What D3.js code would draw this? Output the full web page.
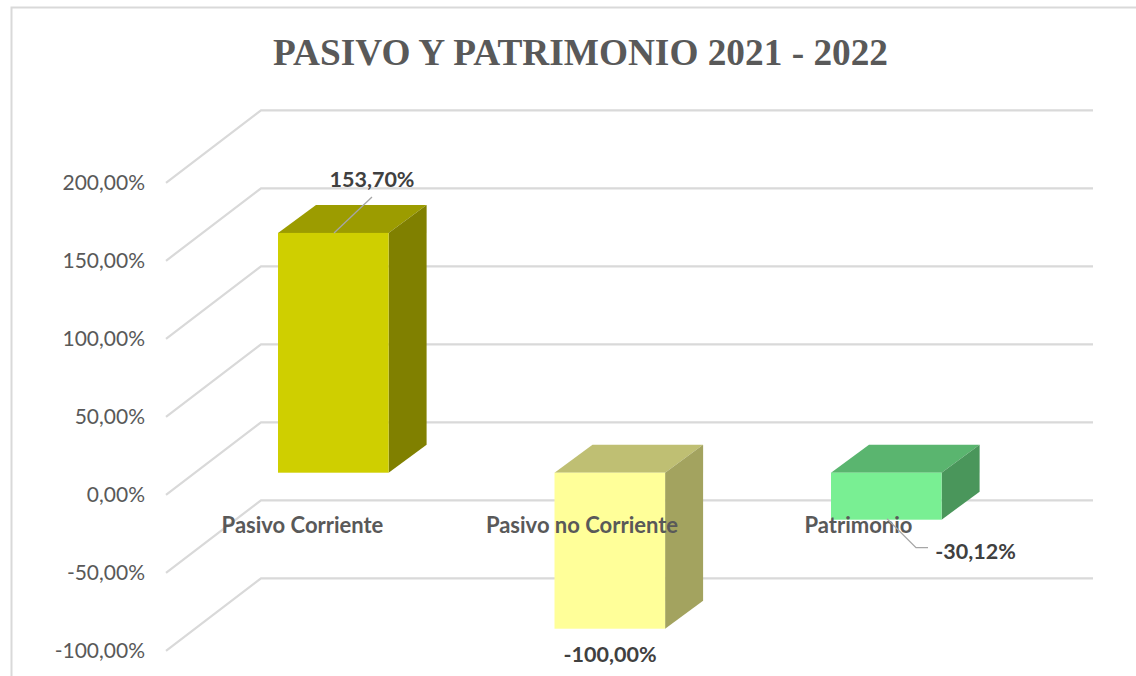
<!DOCTYPE html>
<html><head><meta charset="utf-8">
<script src="https://cdn.jsdelivr.net/npm/d3@7"></script>
<style>html,body{margin:0;padding:0;background:#fff;overflow:hidden}svg{display:block}</style>
</head><body><svg id="c" width="1136" height="676"></svg>
<script>
const titleText = "PASIVO Y PATRIMONIO 2021 - 2022";
const categories = ["Pasivo Corriente","Pasivo no Corriente","Patrimonio"];
const values = [153.70,-100.00,-30.12];
const dataLabels = ["153,70%","-100,00%","-30,12%"];
const ticks = [200,150,100,50,0,-50,-100];
const tickLabels = ["200,00%","150,00%","100,00%","50,00%","0,00%","-50,00%","-100,00%"];
const frontColors = ["#cfcf00","#ffff99","#79ef93"];
const topColors = ["#9c9c00","#bfbf73","#5ab56f"];
const sideColors = ["#808000","#a3a35f","#4a965b"];

const svg = d3.select("#c");
// Back wall of the 3D plot
const y = d3.scaleLinear().domain([-100,200]).range([578.3,110.3]);
const x = d3.scaleBand().domain(categories).range([195.05,1024.55]).paddingInner(0.6).paddingOuter(0.3);
const wall = {x0:261,x1:1093}, floorDx = -95, floorDy = 72.5;
const barFrontDy = 50.4, barDepthX = 38, barDepthY = 28;
const gridColor = "#d9d9d9", textColor = "#595959", labelColor = "#404040";
const sans = "Lato, 'Open Sans', sans-serif";

// chart frame
svg.append("path").attr("d","M11.5,676V7.5H1136").attr("fill","none").attr("stroke",gridColor).attr("stroke-width",2);

// title
svg.append("text").attr("x",580.5).attr("y",64.5).attr("text-anchor","middle")
  .attr("font-family","'Liberation Serif',serif").attr("font-weight","bold").attr("font-size",37.3)
  .attr("fill",textColor).text(titleText);

// gridlines
svg.append("g").selectAll("path").data(ticks).join("path")
  .attr("d",t=>d3.line()([[wall.x0+floorDx,y(t)+floorDy],[wall.x0,y(t)],[wall.x1,y(t)]]))
  .attr("fill","none").attr("stroke",gridColor).attr("stroke-width",2.2);

// axis labels
svg.append("g").selectAll("text").data(ticks).join("text")
  .attr("x",145).attr("y",t=>y(t)+floorDy+7.5).attr("text-anchor","end")
  .attr("font-family",sans).attr("font-size",21).attr("fill",textColor)
  .text((t,i)=>tickLabels[i]);

// bars
const bars = svg.append("g").selectAll("g").data(categories).join("g");
bars.each(function(c,i){
  const g = d3.select(this), v = values[i];
  const l = x(c), r = l+x.bandwidth();
  const y0 = y(0)+barFrontDy, yv = y(v)+barFrontDy;
  const t = Math.min(y0,yv), b = Math.max(y0,yv);
  const dx = barDepthX, dy = barDepthY;
  g.append("path").attr("d",d3.line()([[l,t],[l+dx,t-dy],[r+dx,t-dy],[r,t]])+"Z").attr("fill",topColors[i]);
  g.append("path").attr("d",d3.line()([[r,t],[r+dx,t-dy],[r+dx,b-dy],[r,b]])+"Z").attr("fill",sideColors[i]);
  g.append("rect").attr("x",l).attr("y",t).attr("width",r-l).attr("height",b-t).attr("fill",frontColors[i]);
});

// category labels
const catX = [302.5,582,858.5];
svg.append("g").selectAll("text").data(categories).join("text")
  .attr("x",(c,i)=>catX[i]).attr("y",532.5).attr("text-anchor","middle")
  .attr("font-family",sans).attr("font-weight","bold").attr("font-size",22).attr("fill",textColor)
  .text(c=>c);

// leader lines
const at = i => y(values[i])+barFrontDy;
const l0 = x(categories[0]), l2 = x(categories[2]);
svg.append("path").attr("d",d3.line()([[l0+56,at(0)],[l0+94,at(0)-36]]))
  .attr("fill","none").attr("stroke","#a6a6a6").attr("stroke-width",1.3);
svg.append("path").attr("d",d3.line()([[l2+56,at(2)-1],[l2+85,at(2)+28],[l2+97,at(2)+28]]))
  .attr("fill","none").attr("stroke","#a6a6a6").attr("stroke-width",1.3);

// data labels
const lblX = [372,610,975.5], lblY = [186.5,662,558.5];
svg.append("g").selectAll("text").data(dataLabels).join("text")
  .attr("x",(d,i)=>lblX[i]).attr("y",(d,i)=>lblY[i]).attr("text-anchor","middle")
  .attr("font-family",sans).attr("font-weight","bold").attr("font-size",21.5).attr("fill",labelColor)
  .text(d=>d);
</script></body></html>
